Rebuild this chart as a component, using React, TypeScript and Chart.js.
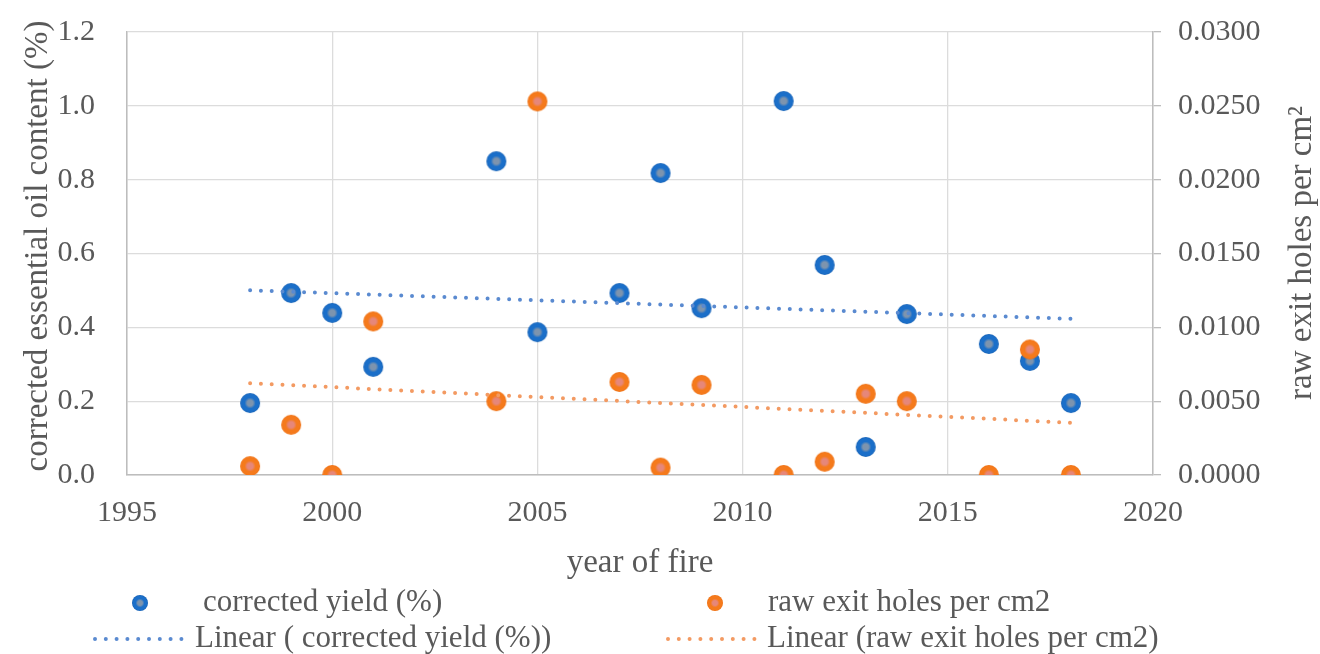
import React, { useEffect, useRef } from 'react';
import { Chart, registerables } from 'chart.js';

Chart.register(...registerables);

// ---- data ----
const years = [1998, 1999, 2000, 2001, 2004, 2005, 2007, 2008, 2009, 2011, 2012, 2013, 2014, 2016, 2017, 2018];
const correctedYield = [0.195, 0.493, 0.439, 0.293, 0.85, 0.387, 0.493, 0.818, 0.452, 1.013, 0.569, 0.076, 0.436, 0.355, 0.309, 0.195];
const exitHoles = [0.0006, 0.0034, 0.0, 0.0104, 0.005, 0.0253, 0.0063, 0.0005, 0.0061, 0.0, 0.0009, 0.0055, 0.005, 0.0, 0.0085, 0.0];

const xRange = [1995, 2020];
const xStep = 5;
const yRange = [0, 1.2];
const yStep = 0.2;
const y1Range = [0, 0.03];
const y1Step = 0.005;

const labelYield = 'corrected yield (%)';
const labelHoles = 'raw exit holes per cm2';
const labelTrendYield = 'Linear ( corrected yield (%))';
const labelTrendHoles = 'Linear (raw exit holes per cm2)';
const titleX = 'year of fire';
const titleY = 'corrected essential oil content (%)';
const titleY1 = 'raw exit holes per cm\u00B2';

const FONT = '"Liberation Serif", "Times New Roman", serif';
const TEXT = '#595959';

function linearFit(xs: number[], ys: number[]) {
  const n = xs.length;
  const mx = xs.reduce((a, b) => a + b, 0) / n;
  const my = ys.reduce((a, b) => a + b, 0) / n;
  let sxy = 0;
  let sxx = 0;
  for (let i = 0; i < n; i++) {
    sxy += (xs[i] - mx) * (ys[i] - my);
    sxx += (xs[i] - mx) * (xs[i] - mx);
  }
  const b = sxy / sxx;
  const a = my - b * mx;
  const x0 = Math.min(...xs);
  const x1 = Math.max(...xs);
  return [
    { x: x0, y: a + b * x0 },
    { x: x1, y: a + b * x1 },
  ];
}

function makeMarker(r: number, ring: string, center: string, edge: string) {
  const c = document.createElement('canvas');
  const s = Math.ceil(r * 2 + 2);
  c.width = s;
  c.height = s;
  const ctx = c.getContext('2d')!;
  const cx = s / 2;
  const g = ctx.createRadialGradient(cx, cx, 0, cx, cx, r);
  g.addColorStop(0, center);
  g.addColorStop(0.3, center);
  g.addColorStop(0.55, ring);
  g.addColorStop(0.85, ring);
  g.addColorStop(1, edge);
  ctx.beginPath();
  ctx.arc(cx, cx, r, 0, Math.PI * 2);
  ctx.fillStyle = g;
  ctx.fill();
  return c;
}

export default function App() {
  const ref = useRef<HTMLCanvasElement | null>(null);

  useEffect(() => {
    if (!ref.current) return;
    const blueMarker = makeMarker(10, '#1b6fc9', '#7d94ae', '#1560b4');
    const orangeMarker = makeMarker(10, '#f57a1c', '#e6877a', '#ee6f10');
    const blueSmall = makeMarker(8, '#1b6fc9', '#7d94ae', '#1560b4');
    const orangeSmall = makeMarker(8, '#f57a1c', '#e6877a', '#ee6f10');

    const trendBlue = '#5a8ad0';
    const trendOrange = '#f39a62';

    const decor = {
      id: 'decor',
      afterDraw(chart: any) {
        const ctx = chart.ctx as CanvasRenderingContext2D;
        const area = chart.chartArea;
        ctx.save();
        ctx.fillStyle = TEXT;
        ctx.font = `33px ${FONT}`;
        ctx.textAlign = 'center';
        ctx.textBaseline = 'middle';
        // x title
        ctx.fillText(titleX, (area.left + area.right) / 2, 563);
        // left title
        ctx.save();
        ctx.translate(38, 246);
        ctx.rotate(-Math.PI / 2);
        ctx.fillText(titleY, 0, 0);
        ctx.restore();
        // right title
        ctx.save();
        ctx.translate(1302, 253);
        ctx.rotate(-Math.PI / 2);
        ctx.fillText(titleY1, 0, 0);
        ctx.restore();

        // legend
        ctx.font = `31px ${FONT}`;
        ctx.textAlign = 'left';
        const row1 = 603;
        const row2 = 639;
        ctx.drawImage(blueSmall, 140 - blueSmall.width / 2, row1 - blueSmall.height / 2);
        ctx.fillText(labelYield, 203, row1);
        ctx.drawImage(orangeSmall, 715 - orangeSmall.width / 2, row1 - orangeSmall.height / 2);
        ctx.fillText(labelHoles, 768, row1);

        const dotted = (x0: number, x1: number, y: number, color: string) => {
          ctx.save();
          ctx.strokeStyle = color;
          ctx.lineWidth = 4;
          ctx.lineCap = 'round';
          ctx.setLineDash([0, 10.8]);
          ctx.beginPath();
          ctx.moveTo(x0, y);
          ctx.lineTo(x1, y);
          ctx.stroke();
          ctx.restore();
        };
        dotted(95, 184, row2, trendBlue);
        ctx.fillText(labelTrendYield, 195, row2);
        dotted(668, 759, row2, trendOrange);
        ctx.fillText(labelTrendHoles, 767, row2);
        ctx.restore();
      },
    };

    const chart = new Chart(ref.current, {
      type: 'scatter',
      data: {
        datasets: [
          {
            label: labelTrendYield,
            data: linearFit(years, correctedYield),
            yAxisID: 'y',
            showLine: true,
            borderColor: trendBlue,
            borderWidth: 4,
            borderDash: [0, 10.8],
            borderCapStyle: 'round',
            pointRadius: 0,
            order: 0,
          } as any,
          {
            label: labelTrendHoles,
            data: linearFit(years, exitHoles),
            yAxisID: 'y1',
            showLine: true,
            borderColor: trendOrange,
            borderWidth: 4,
            borderDash: [0, 10.8],
            borderCapStyle: 'round',
            pointRadius: 0,
            order: 0,
          } as any,
          {
            label: labelHoles,
            data: years.map((x, i) => ({ x, y: exitHoles[i] })),
            yAxisID: 'y1',
            pointStyle: orangeMarker,
            pointRadius: 9,
            order: 1,
          } as any,
          {
            label: labelYield,
            data: years.map((x, i) => ({ x, y: correctedYield[i] })),
            yAxisID: 'y',
            pointStyle: blueMarker,
            pointRadius: 9,
            order: 2,
          } as any,
        ],
      },
      options: {
        responsive: false,
        animation: false,
        devicePixelRatio: 1,
        layout: { padding: { top: 32, left: 0, right: 0, bottom: 69 } },
        plugins: {
          legend: { display: false },
          tooltip: { enabled: false },
        },
        scales: {
          x: {
            type: 'linear',
            min: xRange[0],
            max: xRange[1],
            ticks: {
              stepSize: xStep,
              callback: (v: any) => String(v),
              font: { family: FONT, size: 30 },
              color: TEXT,
              padding: 20,
              maxRotation: 0,
            },
            grid: { color: '#dcdcdc', lineWidth: 1.3, drawTicks: false },
            border: { color: '#bdbdbd', width: 1.5 },
            afterFit: (s: any) => {
              s.height = 110;
              s.paddingLeft = 0;
              s.paddingRight = 0;
            },
          },
          y: {
            type: 'linear',
            position: 'left',
            min: yRange[0],
            max: yRange[1],
            ticks: {
              stepSize: yStep,
              callback: (v: any) => Number(v).toFixed(1),
              font: { family: FONT, size: 30 },
              color: TEXT,
              padding: 32,
            },
            grid: { color: '#dcdcdc', lineWidth: 1.3, drawTicks: false },
            border: { color: '#bdbdbd', width: 1.5 },
            afterFit: (s: any) => {
              s.width = 127;
              s.paddingTop = 0;
              s.paddingBottom = 0;
            },
          },
          y1: {
            type: 'linear',
            position: 'right',
            min: y1Range[0],
            max: y1Range[1],
            ticks: {
              stepSize: y1Step,
              callback: (v: any) => Number(v).toFixed(4),
              font: { family: FONT, size: 30 },
              color: TEXT,
              padding: 17,
            },
            grid: { drawOnChartArea: false, drawTicks: true, tickLength: 8, color: '#bdbdbd', lineWidth: 1.3 },
            border: { color: '#bdbdbd', width: 1.5 },
            afterFit: (s: any) => {
              s.width = 167;
              s.paddingTop = 0;
              s.paddingBottom = 0;
            },
          },
        },
      } as any,
      plugins: [decor],
    });
    return () => chart.destroy();
  }, []);

  return (
    <div style={{ position: 'absolute', left: 0, top: 0, width: 1320, height: 654, background: '#ffffff' }}>
      <canvas ref={ref} width={1320} height={654} style={{ display: 'block' }} />
    </div>
  );
}
